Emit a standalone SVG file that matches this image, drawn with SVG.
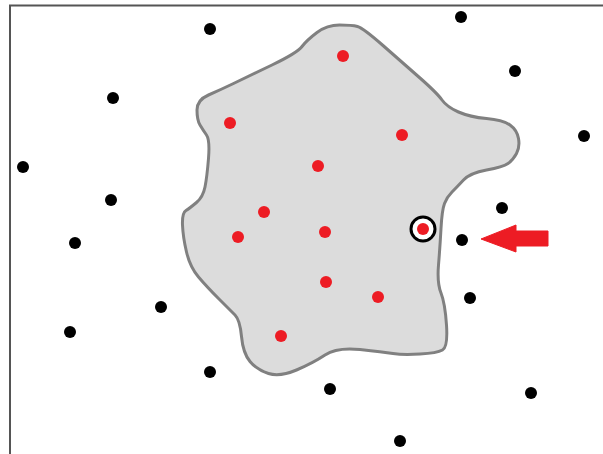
<svg xmlns="http://www.w3.org/2000/svg" width="603" height="454" viewBox="0 0 603 454">
<style>
.b{fill:#000}
.r{fill:#ed1c24}
</style>
<rect width="603" height="454" fill="#fff"/>
<path d="M10,454 V5.5 H603" fill="none" stroke="#555" stroke-width="2"/>
<g id="region">
<path d="M317,32.5 Q327,25 339.5,25 Q352,25 357.5,26.5 Q363,28 383,45.5 Q403,63 420,78 Q437,93 442,100 Q447,107 458.5,112 Q470,117 486.5,118.5 Q503,120 510,125 Q517,130 518.5,138.5 Q520,147 516.5,153.5 Q513,160 508,163.5 Q503,167 486.5,170 Q470,173 463.5,180 Q457,187 452,192 Q447,197 444.5,203.5 Q442,210 441,228.5 Q440,247 438.5,265 Q437,283 441,293 Q445,303 446.5,325 Q448,347 442.5,350 Q437,353 420,354 Q403,355 393,353.5 Q383,352 360,349.5 Q337,347 325,355 Q313,363 296.5,370 Q280,377 268.5,373.5 Q257,370 250,361.5 Q243,353 241.5,336.5 Q240,320 235,315 Q230,310 218.5,298.5 Q207,287 198.5,277 Q190,267 186.5,252 Q183,237 182.5,225 Q182,213 186,210.5 Q190,208 196.5,202.5 Q203,197 205,187 Q207,177 208.5,158.5 Q210,140 206.5,135 Q203,130 200,125 Q197,120 197,110 Q197,100 208.5,95 Q220,90 233.5,83.5 Q247,77 272,65 Q297,53 302,46.5 Q307,40 317,32.5 Z" fill="#dcdcdc" stroke="#808080" stroke-width="3" stroke-linejoin="round"/>
</g>
<g id="black-points">
<circle class="b" cx="210" cy="29" r="6"/>
<circle class="b" cx="461" cy="17" r="6"/>
<circle class="b" cx="113" cy="98" r="6"/>
<circle class="b" cx="515" cy="71" r="6"/>
<circle class="b" cx="584" cy="136" r="6"/>
<circle class="b" cx="23" cy="167" r="6"/>
<circle class="b" cx="111" cy="200" r="6"/>
<circle class="b" cx="502" cy="208" r="6"/>
<circle class="b" cx="75" cy="243" r="6"/>
<circle class="b" cx="462" cy="240" r="6"/>
<circle class="b" cx="161" cy="307" r="6"/>
<circle class="b" cx="470" cy="298" r="6"/>
<circle class="b" cx="70" cy="332" r="6"/>
<circle class="b" cx="210" cy="372" r="6"/>
<circle class="b" cx="330" cy="389" r="6"/>
<circle class="b" cx="531" cy="393" r="6"/>
<circle class="b" cx="400" cy="441" r="6"/>
</g>
<g id="red-points">
<circle class="r" cx="343" cy="56" r="6"/>
<circle class="r" cx="230" cy="123" r="6"/>
<circle class="r" cx="402" cy="135" r="6"/>
<circle class="r" cx="318" cy="166" r="6"/>
<circle class="r" cx="264" cy="212" r="6"/>
<circle class="r" cx="238" cy="237" r="6"/>
<circle class="r" cx="325" cy="232" r="6"/>
<circle class="r" cx="326" cy="282" r="6"/>
<circle class="r" cx="378" cy="297" r="6"/>
<circle class="r" cx="281" cy="336" r="6"/>
</g>
<g id="selected">
<circle cx="423" cy="229" r="12" fill="#fff" stroke="#000" stroke-width="3"/>
<circle class="r" cx="423" cy="229" r="6"/>
</g>
<g id="arrow">
<path d="M481,239 L516,225 L516,231 L548,231 L548,246 L516,246 L516,252 Z" fill="#ed1c24" stroke="#ed1c24" stroke-width="1" stroke-linejoin="round"/>
</g>
</svg>
